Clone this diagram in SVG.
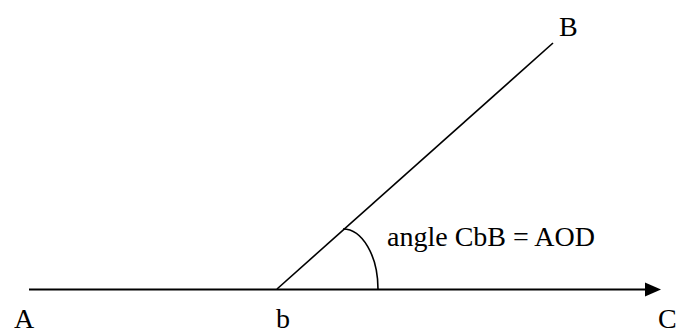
<svg xmlns="http://www.w3.org/2000/svg" width="678" height="333" viewBox="0 0 678 333">
<style>
.lbl{font-family:'Liberation Serif','DejaVu Serif','Noto Serif',serif;font-size:28px;fill:#000}
.ln{stroke:#000;fill:none}
</style>
<rect width="678" height="333" fill="#fff"/>
<g id="connectors">
<line class="ln" x1="29" y1="289.5" x2="646" y2="289.5" stroke-width="2.2"/>
<polygon points="645,282.5 661,289.5 645,296.5" fill="#000"/>
<line class="ln" x1="277" y1="289" x2="553" y2="43" stroke-width="1.6"/>
<path class="ln" d="M343,229 A35,60 0 0 1 378,289" stroke-width="1.6"/>
</g>
<g id="A"><text class="lbl" x="14" y="328">A</text></g>
<g id="b"><text class="lbl" x="276" y="328">b</text></g>
<g id="C"><text class="lbl" x="658" y="328">C</text></g>
<g id="B"><text class="lbl" x="559" y="36">B</text></g>
<g id="angle"><text class="lbl" x="387" y="246">angle CbB = AOD</text></g>
</svg>
